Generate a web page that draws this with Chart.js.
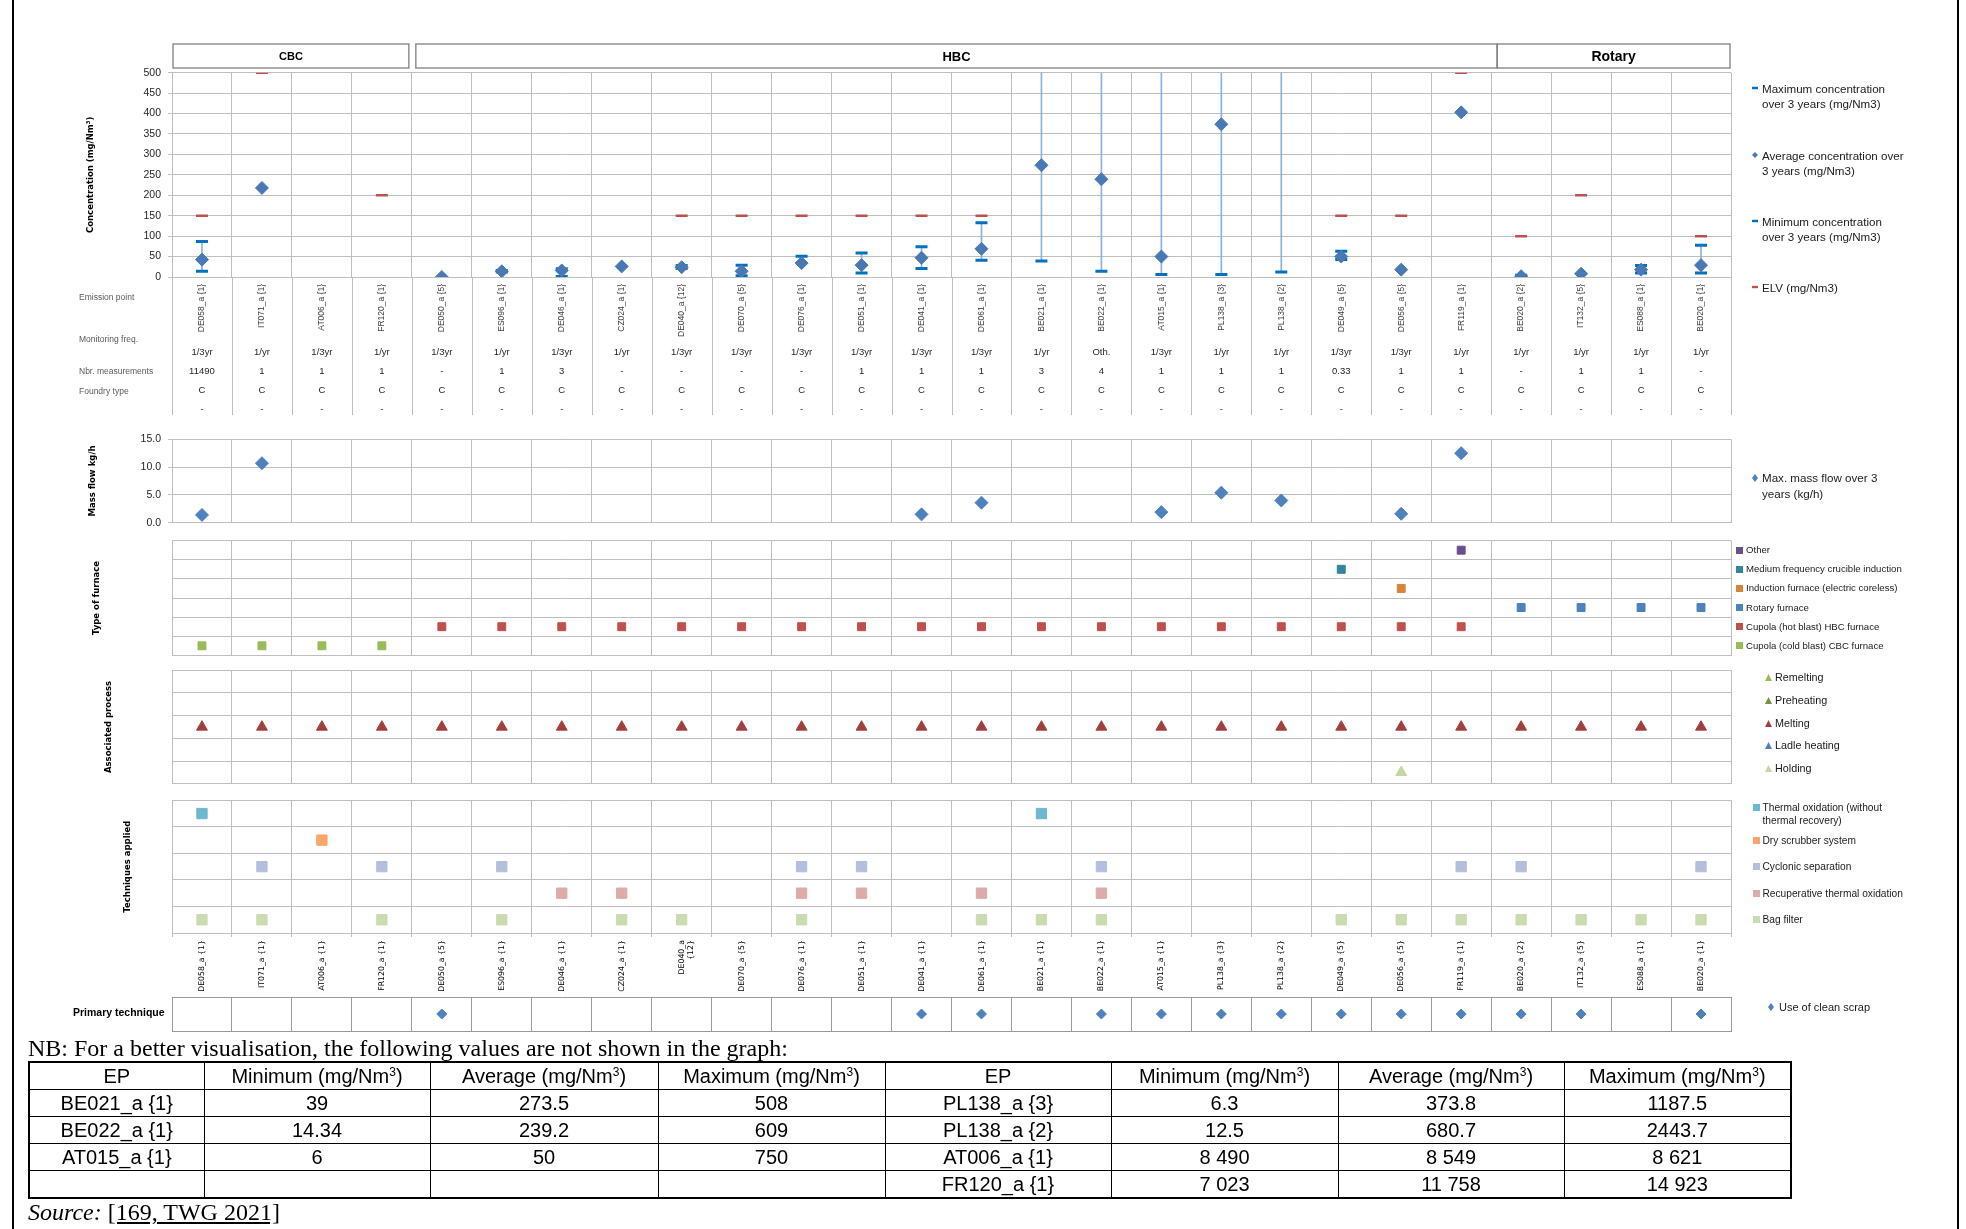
<!DOCTYPE html>
<html>
<head>
<meta charset="utf-8">
<title>Dust emissions - cupola and rotary furnaces</title>
<script src="https://cdn.jsdelivr.net/npm/chart.js@4.4.1/dist/chart.umd.min.js"></script>
<style>
  body { margin: 0; background: #fff; }
  #page { position: relative; width: 1966px; height: 1229px; overflow: hidden; font-family: 'Liberation Sans', Arial, sans-serif; }
  #page canvas { position: absolute; left: 0; }
  .frame { position: absolute; top: 0; width: 2px; height: 1229px; background: #000; }
  .rowlbl { position: absolute; left: 79px; font-size: 8.5px; color: #595959; white-space: nowrap; transform: translateY(-50%); }
  .leg { position: absolute; white-space: nowrap; color: #1a1a1a; }
  .mk { position: absolute; }
  .side { position: absolute; font-weight: bold; font-size: 10.5px; white-space: nowrap; transform: translateY(-50%); }
  .serif { position: absolute; left: 28px; font-family: 'Liberation Serif', 'Times New Roman', serif; font-size: 24px; white-space: nowrap; }
  table.nb { position: absolute; left: 28px; top: 1061px; border-collapse: collapse; border: 2px solid #000; font-size: 20px; table-layout: fixed; }
  table.nb td { border: 1.5px solid #000; text-align: center; padding: 0; height: 26px; line-height: 26px; white-space: nowrap; }
  table.nb sup { font-size: 12px; line-height: 0; vertical-align: 7px; }
</style>
</head>
<body>
<div id="page">
  <div class="frame" style="left:12px"></div>
  <div class="frame" style="left:1957px"></div>
</div>
<script>
// ---------------- data ----------------
const emissionPoints = ['DE058_a {1}', 'IT071_a {1}', 'AT006_a {1}', 'FR120_a {1}', 'DE050_a {5}', 'ES096_a {1}',
  'DE046_a {1}', 'CZ024_a {1}', 'DE040_a {12}', 'DE070_a {5}', 'DE076_a {1}', 'DE051_a {1}', 'DE041_a {1}',
  'DE061_a {1}', 'BE021_a {1}', 'BE022_a {1}', 'AT015_a {1}', 'PL138_a {3}', 'PL138_a {2}', 'DE049_a {5}',
  'DE056_a {5}', 'FR119_a {1}', 'BE020_a {2}', 'IT132_a {5}', 'ES088_a {1}', 'BE020_a {1}'];

const groupNames = ['CBC', 'HBC', 'Rotary'];
const groupSizes = [4, 18, 4];

// concentrations in mg/Nm3 (values above 500 are cut off by the axis)
const maxConc = [87, null, 8621, 14923, null, 16, 20, null, 28, 29, 51, 59, 74, 133, 508, 609, 750, 1187.5, 2443.7, 63, null, null, 4, null, 28, 78];
const avgConc = [42.5, 218, 8549, 11758, 0, 14, 16, 26, 24, 14, 34, 29, 47, 69, 273.5, 239.2, 50, 373.8, 680.7, 50, 18, 403, 2, 8, 18, 29];
const minConc = [14, null, 8490, 7023, null, 12, 1, null, 21, 3, null, 10, 21, 41, 39, 14.34, 6, 6.3, 12.5, 43, null, null, 1, null, 10, 10];
const elvConc = [150, 500, null, 200, null, null, null, null, 150, 150, 150, 150, 150, 150, null, null, null, null, null, 150, 150, 500, 100, 200, null, 100];
const concMax = 500;
const concStep = 50;

const monitoringFreq = ['1/3yr', '1/yr', '1/3yr', '1/yr', '1/3yr', '1/yr', '1/3yr', '1/yr', '1/3yr', '1/3yr', '1/3yr', '1/3yr', '1/3yr',
  '1/3yr', '1/yr', 'Oth.', '1/3yr', '1/yr', '1/yr', '1/3yr', '1/3yr', '1/yr', '1/yr', '1/yr', '1/yr', '1/yr'];
const nbrMeasurements = ['11490', '1', '1', '1', '-', '1', '3', '-', '-', '-', '-', '1', '1', '1', '3', '4', '1', '1', '1', '0.33',
  '1', '1', '-', '1', '1', '-'];
const foundryType = emissionPoints.map(() => 'C');
const lastRow = emissionPoints.map(() => '-');

// max. mass flow over 3 years, kg/h
const massFlow = [1.4, 10.7, null, null, null, null, null, null, null, null, null, null, 1.5, 3.6, null, null, 1.9, 5.4, 4.0, null, 1.6, 12.5, null, null, null, null];
const massMax = 15;
const massStep = 5;

const furnaceTypes = ['Other', 'Medium frequency crucible induction', 'Induction furnace (electric coreless)',
  'Rotary furnace', 'Cupola (hot blast) HBC furnace', 'Cupola (cold blast) CBC furnace'];
const furnaceCodes = ['OTH', 'MF', 'IND', 'ROT', 'HBC', 'CBC'];
const furnaceByPoint = [['CBC'], ['CBC'], ['CBC'], ['CBC'], ['HBC'], ['HBC'], ['HBC'], ['HBC'], ['HBC'], ['HBC'], ['HBC'],
  ['HBC'], ['HBC'], ['HBC'], ['HBC'], ['HBC'], ['HBC'], ['HBC'], ['HBC'], ['HBC', 'MF'], ['HBC', 'IND'], ['HBC', 'OTH'],
  ['ROT'], ['ROT'], ['ROT'], ['ROT']];

const processes = ['Remelting', 'Preheating', 'Melting', 'Ladle heating', 'Holding'];
const processByPoint = emissionPoints.map((p, i) => i === 20 ? ['Melting', 'Holding'] : ['Melting']);

const techniques = ['Thermal oxidation (without thermal recovery)', 'Dry scrubber system', 'Cyclonic separation',
  'Recuperative thermal oxidation', 'Bag filter'];
const techniqueCodes = ['TO', 'DS', 'CS', 'RTO', 'BF'];
const techniqueByPoint = [['TO', 'BF'], ['CS', 'BF'], ['DS'], ['CS', 'BF'], [], ['CS', 'BF'], ['RTO'], ['RTO', 'BF'], ['BF'], [],
  ['CS', 'RTO', 'BF'], ['CS', 'RTO'], [], ['RTO', 'BF'], ['TO', 'BF'], ['CS', 'RTO', 'BF'], [], [], [], ['BF'], ['BF'],
  ['CS', 'BF'], ['CS', 'BF'], ['BF'], ['BF'], ['CS', 'BF']];

const primaryTechniques = ['Use of clean scrap'];
const cleanScrap = [0, 0, 0, 0, 1, 0, 0, 0, 0, 0, 0, 0, 1, 1, 0, 1, 1, 1, 1, 1, 1, 1, 1, 1, 0, 1];

const tableHead = ['EP', 'Minimum (mg/Nm³)', 'Average (mg/Nm³)', 'Maximum (mg/Nm³)'];
const hiddenLeft = [['BE021_a {1}', '39', '273.5', '508'], ['BE022_a {1}', '14.34', '239.2', '609'],
  ['AT015_a {1}', '6', '50', '750'], ['', '', '', '']];
const hiddenRight = [['PL138_a {3}', '6.3', '373.8', '1187.5'], ['PL138_a {2}', '12.5', '680.7', '2443.7'],
  ['AT006_a {1}', '8 490', '8 549', '8 621'], ['FR120_a {1}', '7 023', '11 758', '14 923']];

// ---------------- layout / style ----------------
const PAGE_W = 1966;
const PLOT_LEFT = 172;
const PLOT_RIGHT = 1731;
const GRID = '#BEBEBE';
const SANS = "'Liberation Sans', Arial, sans-serif";
const TITLE_FONT = { family: "'DejaVu Sans', Verdana, sans-serif", size: 8.5, weight: 'bold' };
const page = document.getElementById('page');

const AVG_COL = '#4A78B5';
const BAR_COL = '#0070C0';
const ELV_COL = '#C0504D';
const furnaceColors = ['#6A4F8F', '#31859C', '#D9823B', '#4F81BD', '#C0504D', '#9BBB59'];
const processColors = ['#9BBB59', '#77933C', '#A0403D', '#4F81BD', '#C4D79F'];
const techniqueColors = ['#6CB8CE', '#F9A66C', '#B3BFDD', '#DDABAA', '#CADBB1'];

function makeCanvas(top, height) {
  const c = document.createElement('canvas');
  c.width = PAGE_W;
  c.height = height;
  c.style.top = top + 'px';
  page.appendChild(c);
  return c;
}

function yTitle(text, centerX) {
  // a left title is drawn at axis.left + lineHeight / 2 + padding.top
  const lh = TITLE_FONT.size * 1.2;
  return { display: true, text: text, color: '#000', font: TITLE_FONT, padding: { top: centerX - lh / 2, bottom: 0 } };
}

function baseOptions(padTop, padBottom, scales, extraPlugins) {
  return {
    responsive: false,
    animation: false,
    devicePixelRatio: 1,
    events: [],
    layout: { padding: { left: 0, right: PAGE_W - PLOT_RIGHT, top: padTop, bottom: padBottom } },
    plugins: Object.assign({ legend: { display: false }, tooltip: { enabled: false } }, extraPlugins || {}),
    scales: scales
  };
}

function fixWidth(axis) { axis.width = PLOT_LEFT; }

function plainX(extra) {
  return Object.assign({
    type: 'category',
    offset: true,
    grid: { offset: true, color: GRID, drawTicks: false },
    border: { color: GRID },
    ticks: { display: false },
    afterFit: a => { a.height = 0; }
  }, extra || {});
}

function rowAxis(labels, weight) {
  return {
    type: 'category',
    labels: labels,
    position: 'bottom',
    weight: weight,
    offset: true,
    grid: { display: false, drawTicks: false },
    border: { display: false },
    ticks: { autoSkip: false, maxRotation: 0, minRotation: 0, padding: 7.3, color: '#262626', font: { family: SANS, size: 9.5 } },
    afterFit: a => { a.height = 19; }
  };
}

function categoryY(labels, title, centerX) {
  return {
    type: 'category',
    labels: labels,
    offset: true,
    grid: { offset: true, color: GRID, drawTicks: false },
    border: { color: GRID },
    ticks: { display: false },
    title: title ? yTitle(title, centerX) : { display: false },
    afterFit: fixWidth
  };
}

function boundary(x, i) {
  const n = x.getLabels().length;
  if (i <= 0) return x.left;
  if (i >= n) return x.right;
  return (x.getPixelForValue(i - 1) + x.getPixelForValue(i)) / 2;
}

// column rules running down through the rows under the concentration plot
const columnRules = {
  id: 'columnRules',
  afterDraw(chart, args, o) {
    if (o.bottom == null) return;
    const x = chart.scales.x, ctx = chart.ctx;
    ctx.save();
    ctx.strokeStyle = GRID;
    ctx.lineWidth = 1;
    for (let i = 0; i <= x.getLabels().length; i++) {
      const px = Math.round(boundary(x, i)) + 0.5;
      ctx.beginPath();
      ctx.moveTo(px, chart.chartArea.bottom);
      ctx.lineTo(px, o.bottom);
      ctx.stroke();
    }
    ctx.restore();
  }
};

// CBC / HBC / Rotary boxes above the plot
const groupHeaders = {
  id: 'groupHeaders',
  afterDraw(chart, args, o) {
    if (!o.inset) return;
    const x = chart.scales.x, ctx = chart.ctx;
    let start = 0;
    ctx.save();
    groupNames.forEach((name, g) => {
      const end = start + groupSizes[g];
      const l = boundary(x, start) + o.inset[g][0];
      const r = boundary(x, end) + o.inset[g][1];
      ctx.strokeStyle = '#7F7F7F';
      ctx.lineWidth = 1.3;
      ctx.strokeRect(l, o.top, r - l, o.bottom - o.top);
      ctx.fillStyle = '#000';
      ctx.font = 'bold ' + o.size[g] + 'px ' + SANS;
      ctx.textAlign = 'center';
      ctx.textBaseline = 'middle';
      ctx.fillText(name, (l + r) / 2, (o.top + o.bottom) / 2 + 1);
      start = end;
    });
    ctx.restore();
  }
};

function pointSet(data, style, color, radius, extra) {
  return Object.assign({
    type: 'line', data: data, showLine: false, pointStyle: style, pointRadius: radius,
    pointBackgroundColor: color, pointBorderColor: color, pointBorderWidth: 1
  }, extra || {});
}

// ---------------- 1. concentration ----------------
const CONC_TOP = 40;
const errorRange = maxConc.map((mx, i) => (mx != null && minConc[i] != null) ? [minConc[i], mx] : null);

const concChart = new Chart(makeCanvas(CONC_TOP, 380), {
  type: 'line',
  data: {
    labels: emissionPoints,
    datasets: [
      pointSet(avgConc, 'rectRot', AVG_COL, 6.5, { order: 0 }),
      pointSet(maxConc, 'line', BAR_COL, 6, { pointBorderWidth: 3, order: 1 }),
      pointSet(minConc, 'line', BAR_COL, 6, { pointBorderWidth: 3, order: 1 }),
      pointSet(elvConc, 'line', ELV_COL, 6, { pointBorderWidth: 2.5, order: 2 }),
      { type: 'bar', data: errorRange, backgroundColor: '#8AB2E0', barThickness: 1, order: 3 }
    ]
  },
  options: baseOptions(32.7, 5, {
    x: {
      type: 'category',
      offset: true,
      weight: 0,
      grid: { offset: true, color: GRID, drawTicks: false },
      border: { color: GRID },
      ticks: { autoSkip: false, minRotation: 90, maxRotation: 90, padding: 7, color: '#404040', font: { family: SANS, size: 8.5 } },
      afterFit: a => { a.height = 62; }
    },
    xFreq: rowAxis(monitoringFreq, 1),
    xNbr: rowAxis(nbrMeasurements, 2),
    xType: rowAxis(foundryType, 3),
    xLast: rowAxis(lastRow, 4),
    y: {
      min: 0, max: concMax,
      grid: { color: GRID, tickLength: 4 },
      border: { color: GRID },
      ticks: { stepSize: concStep, padding: 7, color: '#262626', font: { family: SANS, size: 10.5 } },
      title: yTitle('Concentration (mg/Nm³)', 90.5),
      afterFit: fixWidth
    }
  }, {
    columnRules: { bottom: 415 - CONC_TOP },
    groupHeaders: { top: 44 - CONC_TOP, bottom: 68 - CONC_TOP, size: [11, 13, 14], inset: [[1, -3], [4, 6], [6, -1]] }
  }),
  plugins: [columnRules, groupHeaders]
});

// ---------------- 2. mass flow ----------------
const MASS_TOP = 426;
const massChart = new Chart(makeCanvas(MASS_TOP, 110), {
  type: 'line',
  data: { labels: emissionPoints, datasets: [pointSet(massFlow, 'rectRot', '#4F81BD', 6.5)] },
  options: baseOptions(10, 6, {
    x: plainX(),
    y: {
      min: 0, max: massMax,
      grid: { color: GRID, tickLength: 4 },
      border: { color: GRID },
      ticks: { stepSize: massStep, padding: 7, color: '#262626', font: { family: SANS, size: 10.5 }, callback: v => v.toFixed(1) },
      title: yTitle('Mass flow kg/h', 93),
      afterFit: fixWidth
    }
  })
});

// ---------------- 3. type of furnace ----------------
const FURN_TOP = 534;
const furnaceChart = new Chart(makeCanvas(FURN_TOP, 128), {
  type: 'line',
  data: {
    labels: emissionPoints,
    datasets: furnaceCodes.map((code, k) =>
      pointSet(furnaceByPoint.map(list => list.includes(code) ? furnaceTypes[k] : null), 'rect', furnaceColors[k], 5.6))
  },
  options: baseOptions(6, 5, { x: plainX(), y: categoryY(furnaceTypes, 'Type of furnace', 97) })
});

// ---------------- 4. associated process ----------------
const PROC_TOP = 663;
const processChart = new Chart(makeCanvas(PROC_TOP, 128), {
  type: 'line',
  data: {
    labels: emissionPoints,
    datasets: processes.map((p, k) =>
      pointSet(processByPoint.map(list => list.includes(p) ? p : null), 'triangle', processColors[k], 6.3))
  },
  options: baseOptions(6, 6, { x: plainX(), y: categoryY(processes, 'Associated process', 109) })
});

// ---------------- 5. techniques applied ----------------
const TECH_TOP = 792;
const techChart = new Chart(makeCanvas(TECH_TOP, 205), {
  type: 'line',
  data: {
    labels: emissionPoints,
    datasets: techniqueCodes.map((code, k) =>
      pointSet(techniqueByPoint.map(list => list.includes(code) ? techniques[k] : null), 'rect', techniqueColors[k], 7.3))
  },
  options: baseOptions(6, 2, {
    x: {
      type: 'category',
      offset: true,
      grid: { offset: true, color: GRID, tickLength: 4 },
      border: { color: GRID },
      ticks: {
        autoSkip: false, minRotation: 90, maxRotation: 90, padding: 3, color: '#000',
        font: { family: "'DejaVu Sans', Verdana, sans-serif", size: 7.8 },
        callback: function (v) { const s = this.getLabelForValue(v); return s.length > 11 ? s.split(' ') : s; }
      },
      afterFit: a => { a.height = 62; }
    },
    y: categoryY(techniques, 'Techniques applied', 127.5)
  })
});

// ---------------- 6. primary technique ----------------
const PRIM_TOP = 991;
const primaryChart = new Chart(makeCanvas(PRIM_TOP, 46), {
  type: 'line',
  data: {
    labels: emissionPoints,
    datasets: [pointSet(cleanScrap.map(f => f ? primaryTechniques[0] : null), 'rectRot', '#4F81BD', 5)]
  },
  options: baseOptions(6, 6, {
    x: plainX({ grid: { offset: true, color: '#9A9A9A', drawTicks: false }, border: { color: '#9A9A9A' } }),
    y: Object.assign(categoryY(primaryTechniques), {
      grid: { offset: true, color: '#9A9A9A', drawTicks: false }, border: { color: '#9A9A9A' }
    })
  })
});

// ---------------- html text: row labels, legends, table ----------------
function addDiv(cls, html, style) {
  const d = document.createElement('div');
  d.className = cls;
  d.innerHTML = html;
  Object.assign(d.style, style);
  page.appendChild(d);
  return d;
}

[['Emission point', 297], ['Monitoring freq.', 338.5], ['Nbr. measurements', 371], ['Foundry type', 391]]
  .forEach(([t, y]) => addDiv('rowlbl', t, { top: y + 'px' }));
addDiv('side', 'Primary technique', { left: '73px', top: '1012px' });

function markerSvg(shape, color, w, h) {
  let inner;
  if (shape === 'dash') inner = `<rect x="0" y="${h / 2 - 1.2}" width="${w}" height="2.4" fill="${color}"/>`;
  else if (shape === 'diamond') inner = `<polygon points="${w / 2},0 ${w},${h / 2} ${w / 2},${h} 0,${h / 2}" fill="${color}"/>`;
  else if (shape === 'triangle') inner = `<polygon points="${w / 2},0 ${w},${h} 0,${h}" fill="${color}"/>`;
  else inner = `<rect x="0" y="0" width="${w}" height="${h}" fill="${color}"/>`;
  return `<svg width="${w}" height="${h}" xmlns="http://www.w3.org/2000/svg">${inner}</svg>`;
}

function addLegend(items, o) {
  items.forEach(it => {
    const lh = o.lineHeight;
    const firstY = it.y - (it.lines.length - 1) * lh / 2;
    addDiv('mk', markerSvg(it.shape, it.color, o.mw, o.mh), { left: (o.mx - o.mw / 2) + 'px', top: (firstY - o.mh / 2) + 'px', lineHeight: '0' });
    addDiv('leg', it.lines.join('<br>'), {
      left: o.tx + 'px', top: (firstY - lh / 2) + 'px', fontSize: o.size + 'px', lineHeight: lh + 'px'
    });
  });
}

addLegend([
  { shape: 'dash', color: BAR_COL, lines: ['Maximum concentration', 'over 3 years (mg/Nm3)'], y: 95.5 },
  { shape: 'diamond', color: AVG_COL, lines: ['Average concentration over', '3 years (mg/Nm3)'], y: 162.5 },
  { shape: 'dash', color: BAR_COL, lines: ['Minimum concentration', 'over 3 years (mg/Nm3)'], y: 228.5 },
  { shape: 'dash', color: ELV_COL, lines: ['ELV (mg/Nm3)'], y: 287 }
], { mx: 1755, mw: 6, mh: 6, tx: 1762, size: 11.6, lineHeight: 15 });

addLegend([{ shape: 'diamond', color: '#4F81BD', lines: ['Max. mass flow over 3', 'years (kg/h)'], y: 486 }],
  { mx: 1755, mw: 6, mh: 8, tx: 1762, size: 11.6, lineHeight: 16 });

const rowY = (chart, top, i) => top + chart.scales.y.getPixelForValue(i);

addLegend(furnaceTypes.map((t, k) => ({ shape: 'square', color: furnaceColors[k], lines: [t], y: rowY(furnaceChart, FURN_TOP, k) })),
  { mx: 1739, mw: 7, mh: 7, tx: 1746, size: 9.6, lineHeight: 12 });

addLegend(processes.map((p, k) => ({ shape: 'triangle', color: processColors[k], lines: [p], y: rowY(processChart, PROC_TOP, k) - 4 })),
  { mx: 1768, mw: 7, mh: 7, tx: 1775, size: 10.8, lineHeight: 13 });

addLegend(techniques.map((t, k) => ({
  shape: 'square', color: techniqueColors[k],
  lines: k === 0 ? ['Thermal oxidation (without', 'thermal recovery)'] : [t],
  y: rowY(techChart, TECH_TOP, k)
})), { mx: 1756, mw: 7, mh: 7, tx: 1762.5, size: 10.2, lineHeight: 13 });

addLegend([{ shape: 'diamond', color: '#4F81BD', lines: primaryTechniques, y: rowY(primaryChart, PRIM_TOP, 0) - 7 }],
  { mx: 1771, mw: 6, mh: 8, tx: 1779, size: 11, lineHeight: 14 });

// note + table of the values that fall outside the plot
addDiv('serif', 'NB: For a better visualisation, the following values are not shown in the graph:', { top: '1034px', lineHeight: '28px' });

const colWidths = [175, 226, 228, 227, 226, 227, 226, 227];
const fmt = s => s.replace('³', '<sup>3</sup>');
let html = '<colgroup>' + colWidths.map(w => `<col style="width:${w}px">`).join('') + '</colgroup>';
html += '<tr>' + tableHead.concat(tableHead).map(h => `<td>${fmt(h)}</td>`).join('') + '</tr>';
hiddenLeft.forEach((row, r) => {
  html += '<tr>' + row.concat(hiddenRight[r]).map(c => `<td>${c}</td>`).join('') + '</tr>';
});
const table = document.createElement('table');
table.className = 'nb';
table.style.width = colWidths.reduce((a, b) => a + b, 0) + 'px';
table.innerHTML = html;
page.appendChild(table);

addDiv('serif', '<i>Source:</i> <u>[169, TWG 2021]</u>', { top: '1198px', lineHeight: '28px' });
</script>
</body>
</html>
